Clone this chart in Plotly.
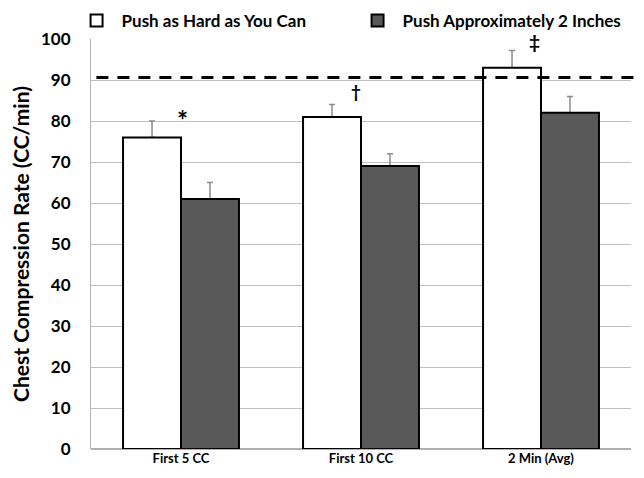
import plotly.graph_objects as go

categories = ["First 5 CC", "First 10 CC", "2 Min (Avg)"]
hard_values = [76, 81, 93]
hard_err = [4, 3, 4.2]
approx_values = [61, 69, 82]
approx_err = [4, 3, 4]
target_rate = 90.6
y_ticks = [0, 10, 20, 30, 40, 50, 60, 70, 80, 90, 100]
marks = ["*", "†", "‡"]
mark_values = [80.2, 87.2, 99.4]

FONT = "Lato"
BOLD = "bold"

fig = go.Figure()
# error bars drawn by hidden traces underneath the visible bars
for vals, errs, grp in [(hard_values, hard_err, "a"), (approx_values, approx_err, "b")]:
    fig.add_trace(go.Bar(
        x=categories, y=vals, offsetgroup=grp, showlegend=False, hoverinfo="skip",
        marker=dict(color="rgba(0,0,0,0)", line=dict(width=0)),
        error_y=dict(type="data", array=errs, symmetric=False, arrayminus=[0, 0, 0],
                     color="#8c8c8c", thickness=1.5, width=3),
    ))
fig.add_trace(go.Bar(
    x=categories, y=hard_values, name="Push as Hard as You Can", offsetgroup="a",
    marker=dict(color="white", line=dict(color="black", width=2)),
))
fig.add_trace(go.Bar(
    x=categories, y=approx_values, name="Push Approximately 2 Inches", offsetgroup="b",
    marker=dict(color="#595959", line=dict(color="black", width=2)),
))

fig.add_shape(type="line", xref="paper", yref="y", x0=0.01, x1=1.008,
              y0=target_rate, y1=target_rate,
              line=dict(color="black", width=3, dash="12px,9px"), layer="above")

shifts = [1, -5, -7]
sizes = [26, 17, 19]
for c, m, v, s, fs in zip(categories, marks, mark_values, shifts, sizes):
    fig.add_annotation(x=c, y=v, text="<b>" + m + "</b>", showarrow=False,
                       xshift=s, font=dict(family=FONT, size=fs, color="black"))

fig.update_layout(
    width=644, height=478,
    margin=dict(l=83, r=21, t=31, b=37, autoexpand=False),
    paper_bgcolor="white", plot_bgcolor="white",
    barmode="group", bargap=0.356, bargroupgap=0,
    font=dict(family=FONT, color="black"),
    showlegend=True,
    legend=dict(orientation="h", x=-0.036, y=1.0, xanchor="left", yanchor="bottom",
                font=dict(family=FONT, size=17, color="black", weight=BOLD),
                itemwidth=40,
                entrywidth=226, entrywidthmode="pixels",
                bgcolor="rgba(0,0,0,0)"),
    xaxis=dict(showgrid=False, showline=False, ticks="",
               tickfont=dict(family=FONT, size=13, color="black", weight=BOLD)),
    yaxis=dict(range=[0, 100], tickvals=y_ticks, showgrid=True, gridcolor="#c0c0c0",
               gridwidth=1, showline=True, linecolor="#b0b0b0", linewidth=1,
               zeroline=True, zerolinecolor="#b0b0b0", zerolinewidth=2,
               ticks="", ticklen=0, ticklabelstandoff=16,
               tickfont=dict(family=FONT, size=17, color="black", weight=BOLD),
               title=dict(text="Chest Compression Rate (CC/min)", standoff=13,
                          font=dict(family=FONT, size=21, color="black", weight=BOLD))),
)

fig.write_html("out.html")
